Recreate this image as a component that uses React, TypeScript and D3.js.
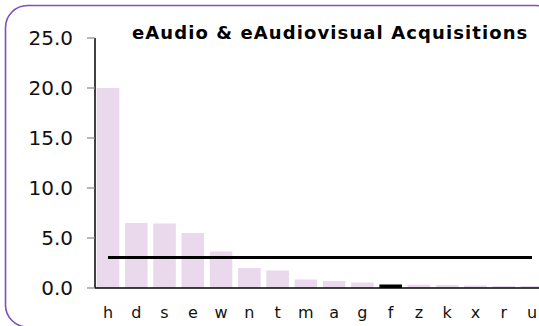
import React from 'react';
import * as d3 from 'd3';

const categories = ['h', 'd', 's', 'e', 'w', 'n', 't', 'm', 'a', 'g', 'f', 'z', 'k', 'x', 'r', 'u'];
const values = [20.0, 6.5, 6.45, 5.5, 3.65, 2.0, 1.75, 0.85, 0.7, 0.55, 0.35, 0.33, 0.3, 0.25, 0.2, 0.2];
const highlighted = ['f'];
const averageValue = 3.05;
const yTicks = [0, 5, 10, 15, 20, 25];
const title = 'eAudio & eAudiovisual Acquisitions';

const W = 539;
const H = 326;
const font = '"DejaVu Sans", Verdana, sans-serif';

const App: React.FC = () => {
  const x = d3.scaleBand<string>().domain(categories).range([95, 545]).paddingInner(0.2).paddingOuter(0.06);
  const y = d3.scaleLinear().domain([0, 25]).range([288, 38]);
  const fmt = d3.format('.1f');
  const bw = x.bandwidth();

  const first = categories[0];
  const last = categories[categories.length - 1];

  return (
    <svg
      width={W}
      height={H}
      style={{ position: 'absolute', left: 0, top: 0, display: 'block' }}
      fontFamily={font}
    >
      <rect x={0} y={0} width={W} height={H} fill="#fff" />
      {/* frame */}
      <rect x={5.5} y={5.5} width={552} height={321.5} rx={22} ry={22} fill="none" stroke="#7f4fbf" strokeWidth={1.6} />

      {/* bars */}
      {categories.map((c, i) => (
        <rect
          key={c}
          x={x(c)}
          y={y(values[i])}
          width={bw}
          height={y(0) - y(values[i])}
          fill={highlighted.includes(c) ? '#000' : '#ead9ec'}
        />
      ))}

      {/* average line */}
      <line
        x1={(x(first) ?? 0) + bw / 2}
        x2={(x(last) ?? 0) + bw / 2}
        y1={y(averageValue)}
        y2={y(averageValue)}
        stroke="#000"
        strokeWidth={3}
      />

      {/* y axis */}
      <line x1={95} x2={95} y1={y(25)} y2={y(0)} stroke="#000" strokeWidth={1.5} />
      {yTicks.map((t) => (
        <g key={t}>
          <line x1={87} x2={95} y1={y(t)} y2={y(t)} stroke="#888" strokeWidth={1.2} />
          <text x={73} y={y(t)} dy="0.36em" textAnchor="end" fontSize={20} fill="#111">
            {fmt(t)}
          </text>
        </g>
      ))}

      {/* x axis */}
      <line x1={95} x2={W} y1={y(0)} y2={y(0)} stroke="#000" strokeWidth={1.5} />
      {categories.map((c) => (
        <text key={c} x={(x(c) ?? 0) + bw / 2} y={318} textAnchor="middle" fontSize={16} fill="#111">
          {c}
        </text>
      ))}

      <text x={132} y={39} fontSize={18} fontWeight="bold" letterSpacing={1.1} fill="#000">
        {title}
      </text>
    </svg>
  );
};

export default App;
